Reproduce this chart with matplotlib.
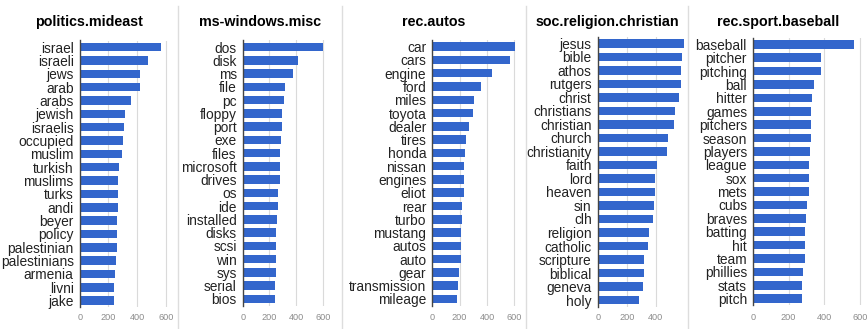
import matplotlib
matplotlib.use("Agg")
import matplotlib.pyplot as plt
from matplotlib.lines import Line2D
from matplotlib.transforms import Bbox, TransformedBbox, blended_transform_factory

plt.rcParams["font.family"] = ["Liberation Sans", "DejaVu Sans"]

# ---- data: top words per newsgroup ----
mideast_words = ["israel", "israeli", "jews", "arab", "arabs", "jewish", "israelis",
                 "occupied", "muslim", "turkish", "muslims", "turks", "andi", "beyer",
                 "policy", "palestinian", "palestinians", "armenia", "livni", "jake"]
mideast_counts = [565, 474, 419, 419, 358, 314, 309, 305, 298, 277, 267, 267, 267,
                  263, 258, 258, 253, 244, 240, 240]

windows_words = ["dos", "disk", "ms", "file", "pc", "floppy", "port", "exe", "files",
                 "microsoft", "drives", "os", "ide", "installed", "disks", "scsi",
                 "win", "sys", "serial", "bios"]
windows_counts = [602, 418, 375, 320, 310, 298, 293, 288, 283, 283, 283, 263, 263,
                  258, 253, 253, 253, 248, 243, 243]

autos_words = ["car", "cars", "engine", "ford", "miles", "toyota", "dealer", "tires",
               "honda", "nissan", "engines", "eliot", "rear", "turbo", "mustang",
               "autos", "auto", "gear", "transmission", "mileage"]
autos_counts = [602, 571, 434, 354, 307, 300, 271, 244, 239, 234, 229, 229, 217, 217,
                212, 212, 207, 193, 188, 183]

christian_words = ["jesus", "bible", "athos", "rutgers", "christ", "christians",
                   "christian", "church", "christianity", "faith", "lord", "heaven",
                   "sin", "clh", "religion", "catholic", "scripture", "biblical",
                   "geneva", "holy"]
christian_counts = [595, 582, 577, 577, 563, 536, 526, 487, 476, 411, 398, 393, 386,
                    382, 356, 347, 317, 317, 310, 287]

baseball_words = ["baseball", "pitcher", "pitching", "ball", "hitter", "games",
                  "pitchers", "season", "players", "league", "sox", "mets", "cubs",
                  "braves", "batting", "hit", "team", "phillies", "stats", "pitch"]
baseball_counts = [566, 379, 379, 344, 332, 327, 327, 323, 319, 312, 312, 312, 304,
                   297, 293, 293, 289, 280, 276, 272]

titles = ["politics.mideast", "ms-windows.misc", "rec.autos",
          "soc.religion.christian", "rec.sport.baseball"]
x_tick_values = [[0, 200, 400, 600], [0, 200, 400, 600, 800], [0, 200, 400, 600],
                 [0, 200, 400], [0, 200, 400, 600]]

# ---- layout (pixels) ----
W, H = 868, 329
BLUE = "#3366cc"
GRID = "#dadada"
SEP = "#dddddd"

panel_edges = [0, 178, 342, 526, 688, 868]
# x of value 0, pixels per 200 units, chart top, chart bottom
geometry = [
    (79.7, 28.67, 40.5, 307.3),
    (242.7, 26.67, 40.4, 305.6),
    (432.3, 27.33, 40.0, 305.6),
    (597.7, 29.0, 36.6, 306.8),
    (753.0, 35.67, 37.6, 305.4),
]

panels = [
    (mideast_words, mideast_counts),
    (windows_words, windows_counts),
    (autos_words, autos_counts),
    (christian_words, christian_counts),
    (baseball_words, baseball_counts),
]

fig = plt.figure(figsize=(W / 100, H / 100), dpi=100)
fig.patch.set_facecolor("white")

for i, ((words, counts), (x0, px200, top, bot)) in enumerate(zip(panels, geometry)):
    left_edge, right_edge = panel_edges[i], panel_edges[i + 1]
    ax = fig.add_axes([x0 / W, 1 - bot / H, (right_edge - x0) / W, (bot - top) / H])
    xmax = (right_edge - x0) / px200 * 200
    n = len(words)
    pos = list(range(n))
    ax.barh(pos, counts, height=0.64, color=BLUE, zorder=3)
    ax.set_xlim(0, xmax)
    ax.set_ylim(n - 0.5, -0.5)
    ax.set_yticks(pos)
    ax.set_yticklabels(words)
    ax.tick_params(axis="y", length=0, pad=4.3, labelsize=9.9, labelcolor="#222222")
    ax.set_xticks([])
    for s in ["top", "right", "bottom"]:
        ax.spines[s].set_visible(False)
    ax.spines["left"].set_color("#444444")
    ax.spines["left"].set_linewidth(1.0)
    ax.spines["left"].set_zorder(4)
    for v in x_tick_values[i]:
        if v > 0 and v < xmax:
            ax.axvline(v, color=GRID, lw=0.8, zorder=1)
    # value labels along the bottom, clipped to this panel's column
    clip = TransformedBbox(Bbox.from_extents(left_edge / W, 0, right_edge / W, 1),
                           fig.transFigure)
    trans = blended_transform_factory(ax.transData, fig.transFigure)
    for v in x_tick_values[i]:
        t = ax.text(v, 1 - 317 / H, str(v), transform=trans, ha="center", va="center",
                    fontsize=6.6, color="#8c8c8c")
        t.set_clip_box(clip)
        t.set_clip_on(True)
    fig.text((left_edge + right_edge) / 2 / W, 1 - 22 / H, titles[i], ha="center",
             va="center", fontsize=10.3, fontweight="bold", color="#000000")

for x in panel_edges[1:-1]:
    fig.add_artist(Line2D([x / W, x / W], [0, 1 - 6 / H], transform=fig.transFigure,
                          color=SEP, lw=1.0))

fig.savefig("out.png", dpi=100)
